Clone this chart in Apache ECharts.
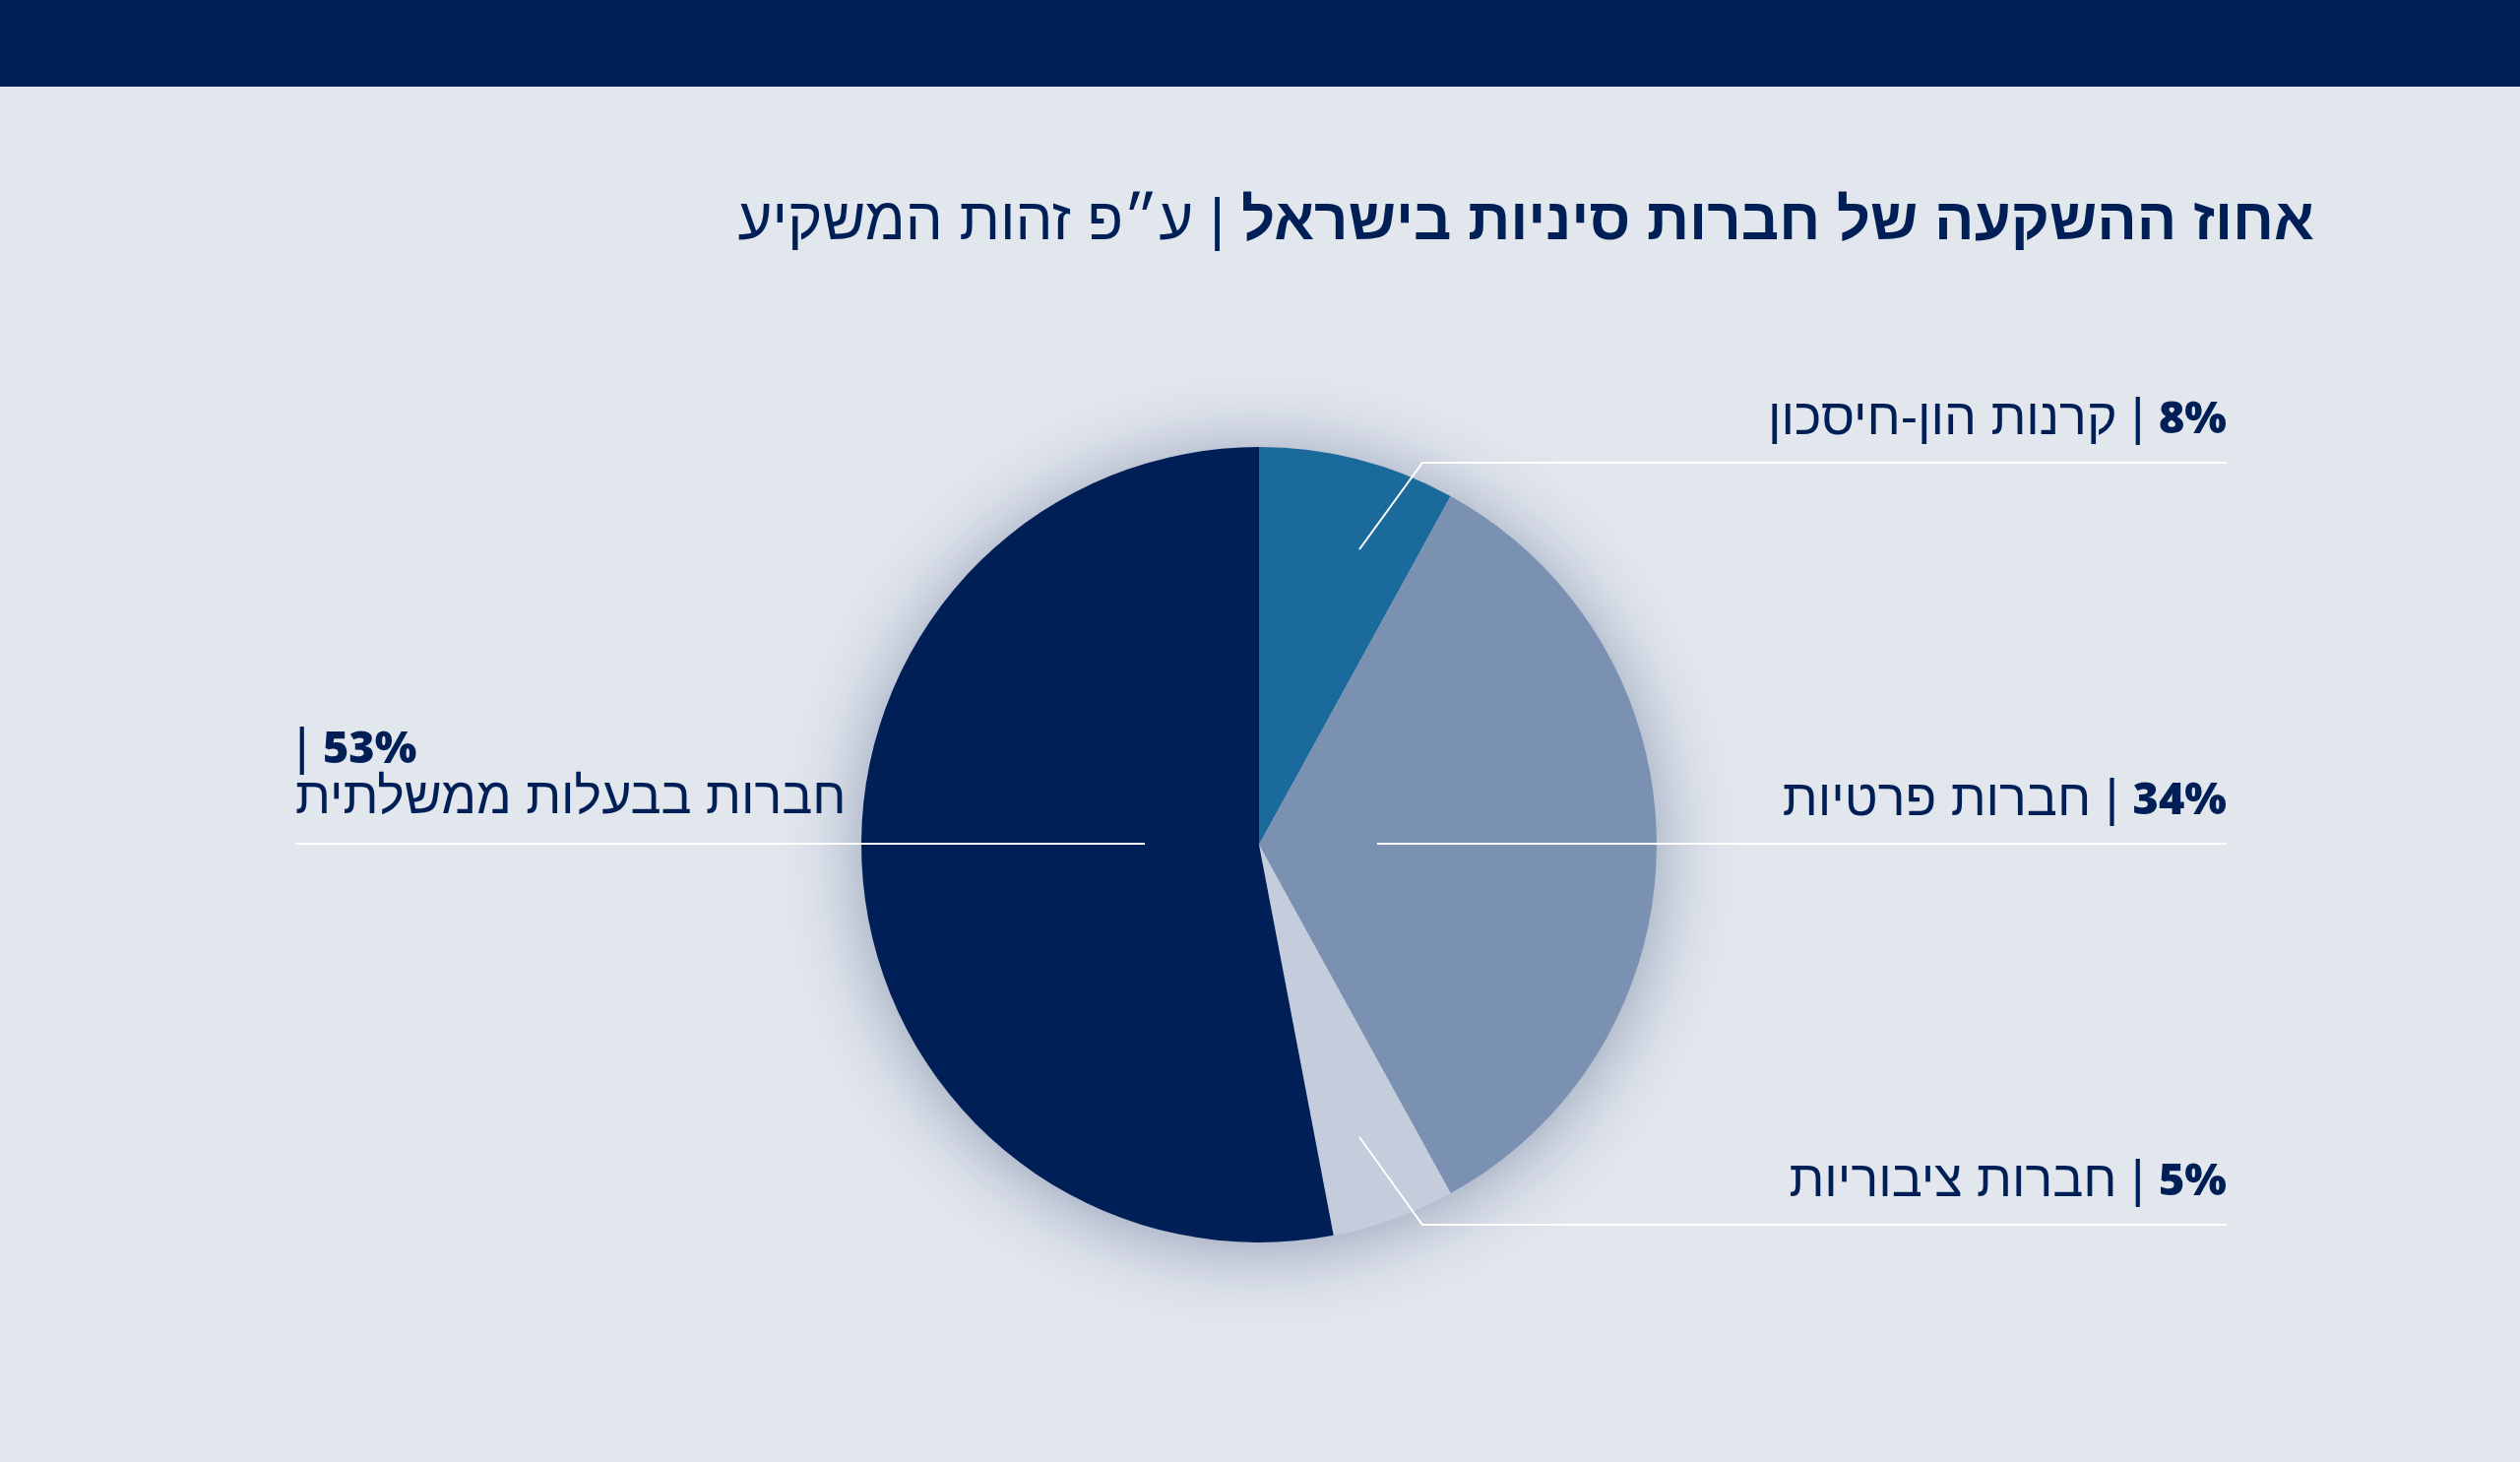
<!DOCTYPE html>
<html>
<head>
<meta charset="utf-8">
<script src="https://cdn.jsdelivr.net/npm/echarts@6/dist/echarts.min.js"></script>
<style>
html,body{margin:0;padding:0;background:#e2e7ee;}
#c{width:2560px;height:1485px;}
</style>
</head>
<body>
<div id="c"></div>
<script>
// ---- data ----
const categories = ['קרנות הון-חיסכון', 'חברות פרטיות', 'חברות ציבוריות', 'חברות בבעלות ממשלתית'];
const values = [8, 34, 5, 53];
const sliceColors = ['#1a6a9c', '#7b91b1', '#c5cddc', '#001f57'];
const titleBold = 'אחוז ההשקעה של חברות סיניות בישראל';
const titleLight = 'ע״פ זהות המשקיע';

// ---- layout (positions only) ----
const CX = 1279, CY = 858, R = 404;
const HFONT = '"Liberation Sans", "Open Sans", "DejaVu Sans", sans-serif';
const NFONT = '"Open Sans", "Noto Sans", "DejaVu Sans", sans-serif';
const NAVY = '#001f57';
const LFS = 52;   // label (Hebrew) font size
const PFS = 45;   // percent font size
const TFS = 60;   // title font size
const labelPlaces = [
  { x: 2262, y: 427, align: 'right', line: [[1381, 558], [1445, 470], [2262, 470]] },
  { x: 2262, y: 814, align: 'right', line: [[1399, 857], [1399, 857], [2262, 857]] },
  { x: 2262, y: 1201, align: 'right', line: [[1381, 1155], [1445, 1244], [2262, 1244]] },
  { x: 300, y: 787, align: 'left', line: [[1163, 857], [1163, 857], [300, 857]] }
];

const chart = echarts.init(document.getElementById('c'));
const pieData = categories.map((n, i) => ({ name: n, value: values[i], itemStyle: { color: sliceColors[i] } }));
const labelData = categories.map((n, i) => ({ name: n, value: values[i], itemStyle: { color: 'rgba(0,0,0,0)' } }));

chart.setOption({
  backgroundColor: '#e2e7ee',
  animation: false,
  graphic: [
    { type: 'rect', left: 0, top: 0, shape: { width: 2560, height: 88 }, style: { fill: NAVY }, silent: true }
  ],
  title: {
    text: '{l|' + titleLight + '}{s| | }{b|' + titleBold + '}',
    right: 204,
    top: 186,
    textStyle: {
      rich: {
        l: { fontFamily: HFONT, fontSize: TFS, fontWeight: 400, color: NAVY, lineHeight: 70 },
        s: { fontFamily: HFONT, fontSize: TFS, fontWeight: 400, color: NAVY, lineHeight: 70 },
        b: { fontFamily: HFONT, fontSize: TFS, fontWeight: 700, color: NAVY, lineHeight: 70 }
      }
    }
  },
  series: [
    {
      type: 'pie',
      silent: true,
      radius: R,
      center: [CX, CY],
      z: 1,
      data: [{ value: 1, itemStyle: { color: '#c5cddc' } }],
      label: { show: false },
      labelLine: { show: false },
      itemStyle: { shadowBlur: 80, shadowColor: 'rgba(0,25,80,0.36)', shadowOffsetY: 6 }
    },
    {
      type: 'pie',
      radius: R,
      center: [CX, CY],
      startAngle: 90,
      clockwise: true,
      z: 2,
      silent: true,
      data: pieData,
      label: { show: false },
      labelLine: { show: false }
    },
    {
      type: 'pie',
      radius: R,
      center: [CX, CY],
      startAngle: 90,
      clockwise: true,
      z: 3,
      silent: true,
      data: labelData,
      label: {
        show: true,
        position: 'outside',
        formatter: function (p) {
          if (p.dataIndex === 3) {
            return '{s|| }{p|' + p.value + '%}\n{n|' + p.name + '}';
          }
          return '{n|' + p.name + '}{s| | }{p|' + p.value + '%}';
        },
        rich: {
          p: { fontFamily: NFONT, fontSize: PFS, fontWeight: 800, color: NAVY, lineHeight: 50 },
          s: { fontFamily: HFONT, fontSize: LFS, fontWeight: 400, color: NAVY, lineHeight: 50 },
          n: { fontFamily: HFONT, fontSize: LFS, fontWeight: 400, color: NAVY, lineHeight: 50 }
        }
      },
      labelLine: { show: true, showAbove: true, lineStyle: { color: '#ffffff', width: 2 } },
      labelLayout: function (params) {
        const pl = labelPlaces[params.dataIndex];
        return {
          x: pl.x,
          y: pl.y,
          align: pl.align,
          verticalAlign: 'middle',
          labelLinePoints: pl.line
        };
      }
    }
  ]
});
</script>
</body>
</html>
